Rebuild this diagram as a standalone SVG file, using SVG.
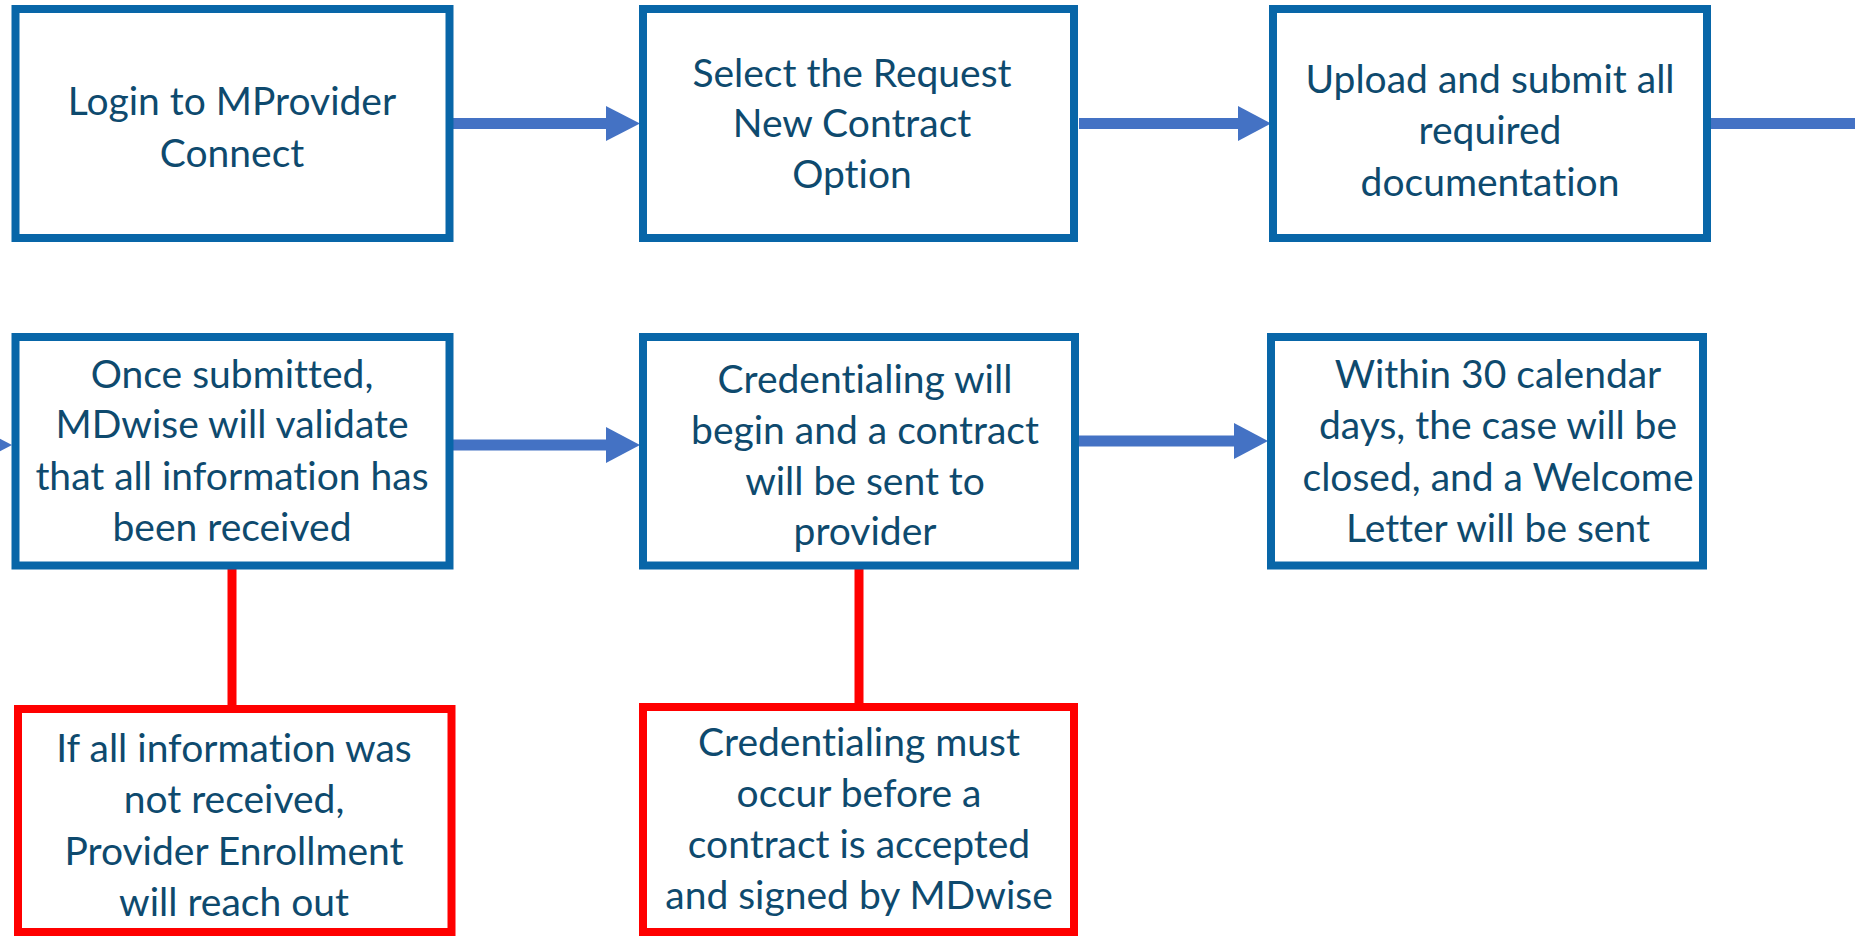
<svg xmlns="http://www.w3.org/2000/svg" width="1855" height="936" viewBox="0 0 1855 936">
<defs>
<style>
.box{fill:#ffffff;stroke:#0866A8;stroke-width:8}
.rbox{fill:#ffffff;stroke:#FF0000;stroke-width:8}
.t{font-family:Lato,"Noto Sans",sans-serif;font-size:39px;fill:#0E4A6E;text-anchor:middle;font-variant-ligatures:none}
.shaft{stroke:#4472C4;stroke-width:11;fill:none}
.head{fill:#4472C4}
.red{stroke:#FF0000;stroke-width:9;fill:none}
</style>
</defs>
<rect width="1855" height="936" fill="#ffffff"/>
<g id="connectors">
<line class="shaft" x1="452" y1="123.5" x2="608" y2="123.5"/>
<polygon class="head" points="606,106 640,123.5 606,141"/>
<line class="shaft" x1="1079" y1="123.5" x2="1240" y2="123.5"/>
<polygon class="head" points="1238,106 1271,123.5 1238,141"/>
<line class="shaft" x1="1710" y1="123.5" x2="1855" y2="123.5"/>
<polygon class="head" points="-22,427 12,445 -22,463"/>
<line class="shaft" x1="452" y1="445" x2="608" y2="445"/>
<polygon class="head" points="606,427 640,445 606,463"/>
<line class="shaft" x1="1079" y1="441" x2="1236" y2="441"/>
<polygon class="head" points="1234,423 1268,441 1234,459"/>
<line class="red" x1="232" y1="568" x2="232" y2="706"/>
<line class="red" x1="859" y1="568" x2="859" y2="706"/>
</g>
<g id="n1">
<rect class="box" x="15.5" y="9" width="434" height="229"/>
<text class="t"><tspan x="232" y="115">Login to MProvider</tspan><tspan x="232" y="167">Connect</tspan></text>
</g>
<g id="n2">
<rect class="box" x="643" y="9" width="431" height="229"/>
<text class="t"><tspan x="852" y="87">Select the Request</tspan><tspan x="852" y="137">New Contract</tspan><tspan x="852" y="188">Option</tspan></text>
</g>
<g id="n3">
<rect class="box" x="1273" y="9" width="434" height="229"/>
<text class="t"><tspan x="1490" y="93">Upload and submit all</tspan><tspan x="1490" y="144">required</tspan><tspan x="1490" y="196">documentation</tspan></text>
</g>
<g id="n4">
<rect class="box" x="15.5" y="337" width="434" height="228.5"/>
<text class="t"><tspan x="232" y="388">Once submitted,</tspan><tspan x="232" y="438">MDwise will validate</tspan><tspan x="232" y="490">that all information has</tspan><tspan x="232" y="541">been received</tspan></text>
</g>
<g id="n5">
<rect class="box" x="643" y="337" width="432" height="228.5"/>
<text class="t"><tspan x="865" y="393">Credentialing will</tspan><tspan x="865" y="444">begin and a contract</tspan><tspan x="865" y="495">will be sent to</tspan><tspan x="865" y="545">provider</tspan></text>
</g>
<g id="n6">
<rect class="box" x="1271" y="337" width="432" height="228.5"/>
<text class="t"><tspan x="1498" y="388">Within 30 calendar</tspan><tspan x="1498" y="439">days, the case will be</tspan><tspan x="1498" y="491">closed, and a Welcome</tspan><tspan x="1498" y="542">Letter will be sent</tspan></text>
</g>
<g id="n7">
<rect class="rbox" x="18" y="709" width="433.5" height="223"/>
<text class="t"><tspan x="234" y="762">If all information was</tspan><tspan x="234" y="813">not received,</tspan><tspan x="234" y="865">Provider Enrollment</tspan><tspan x="234" y="916">will reach out</tspan></text>
</g>
<g id="n8">
<rect class="rbox" x="643" y="707" width="431" height="225"/>
<text class="t"><tspan x="859" y="756">Credentialing must</tspan><tspan x="859" y="807">occur before a</tspan><tspan x="859" y="858">contract is accepted</tspan><tspan x="859" y="909">and signed by MDwise</tspan></text>
</g>
</svg>
